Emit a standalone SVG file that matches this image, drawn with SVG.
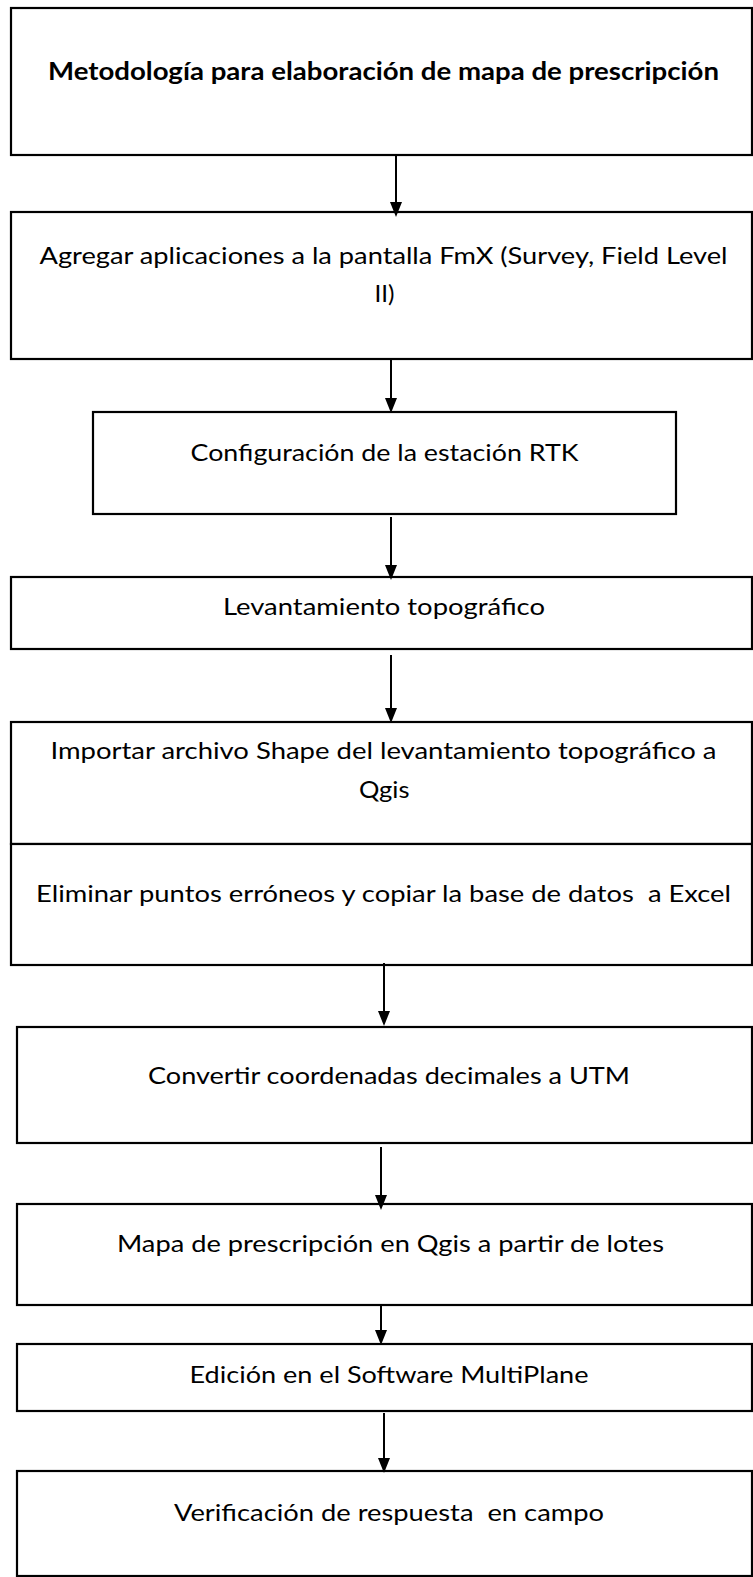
<svg xmlns="http://www.w3.org/2000/svg" width="753" height="1577" viewBox="0 0 753 1577">
<style>
.box{fill:#fff;stroke:#000;stroke-width:2.2}
.t{font-family:Lato,"Liberation Sans",sans-serif;font-size:24px;fill:#000;white-space:pre}
.b{font-weight:bold}
.c{fill:none;stroke:#000;stroke-width:2}
</style>
<defs>
<marker id="ah" markerUnits="userSpaceOnUse" markerWidth="16" markerHeight="12" refX="12" refY="6" orient="auto">
<path d="M0,0 L15,6 L0,12 z" fill="#000"/>
</marker>
</defs>
<rect width="753" height="1577" fill="#fff"/>
<g id="node1">
<rect class="box" x="11" y="8" width="741" height="147"/>
<text class="t b" x="48" y="79.5" textLength="671" lengthAdjust="spacingAndGlyphs">Metodología para elaboración de mapa de prescripción</text>
</g>
<g id="node2">
<rect class="box" x="11" y="212" width="741" height="147"/>
<text class="t" x="39.5" y="263.5" textLength="688" lengthAdjust="spacingAndGlyphs">Agregar aplicaciones a la pantalla FmX (Survey, Field Level</text>
<text class="t" x="374.5" y="302" textLength="20" lengthAdjust="spacingAndGlyphs">II)</text>
</g>
<g id="node3">
<rect class="box" x="93" y="412" width="583" height="102"/>
<text class="t" x="190.5" y="461" textLength="388" lengthAdjust="spacingAndGlyphs">Configuración de la estación RTK</text>
</g>
<g id="node4">
<rect class="box" x="11" y="577" width="741" height="72"/>
<text class="t" x="223" y="614.5" textLength="322" lengthAdjust="spacingAndGlyphs">Levantamiento topográfico</text>
</g>
<g id="node5">
<rect class="box" x="11" y="722" width="741" height="122"/>
<text class="t" x="50.5" y="759" textLength="666" lengthAdjust="spacingAndGlyphs">Importar archivo Shape del levantamiento topográfico a</text>
<text class="t" x="359" y="798" textLength="50.5" lengthAdjust="spacingAndGlyphs">Qgis</text>
</g>
<g id="node6">
<rect class="box" x="11" y="844" width="741" height="121"/>
<text class="t" x="36" y="902" textLength="695" lengthAdjust="spacingAndGlyphs">Eliminar puntos erróneos y copiar la base de datos  a Excel</text>
</g>
<g id="node7">
<rect class="box" x="17" y="1027" width="735" height="116"/>
<text class="t" x="148" y="1083.5" textLength="482" lengthAdjust="spacingAndGlyphs">Convertir coordenadas decimales a UTM</text>
</g>
<g id="node8">
<rect class="box" x="17" y="1204" width="735" height="101"/>
<text class="t" x="117" y="1251.7" textLength="547" lengthAdjust="spacingAndGlyphs">Mapa de prescripción en Qgis a partir de lotes</text>
</g>
<g id="node9">
<rect class="box" x="17" y="1344" width="735" height="67"/>
<text class="t" x="189.5" y="1383" textLength="399" lengthAdjust="spacingAndGlyphs">Edición en el Software MultiPlane</text>
</g>
<g id="node10">
<rect class="box" x="17" y="1471" width="735" height="105"/>
<text class="t" x="174" y="1521" textLength="430" lengthAdjust="spacingAndGlyphs">Verificación de respuesta  en campo</text>
</g>
<g id="connectors">
<path class="c" d="M396,156 V214" marker-end="url(#ah)"/>
<path class="c" d="M391,360 V410" marker-end="url(#ah)"/>
<path class="c" d="M391,517 V577" marker-end="url(#ah)"/>
<path class="c" d="M391,655 V720" marker-end="url(#ah)"/>
<path class="c" d="M384,963 V1023" marker-end="url(#ah)"/>
<path class="c" d="M381,1147 V1207" marker-end="url(#ah)"/>
<path class="c" d="M381,1305 V1342" marker-end="url(#ah)"/>
<path class="c" d="M384,1413 V1470" marker-end="url(#ah)"/>
</g>
</svg>
